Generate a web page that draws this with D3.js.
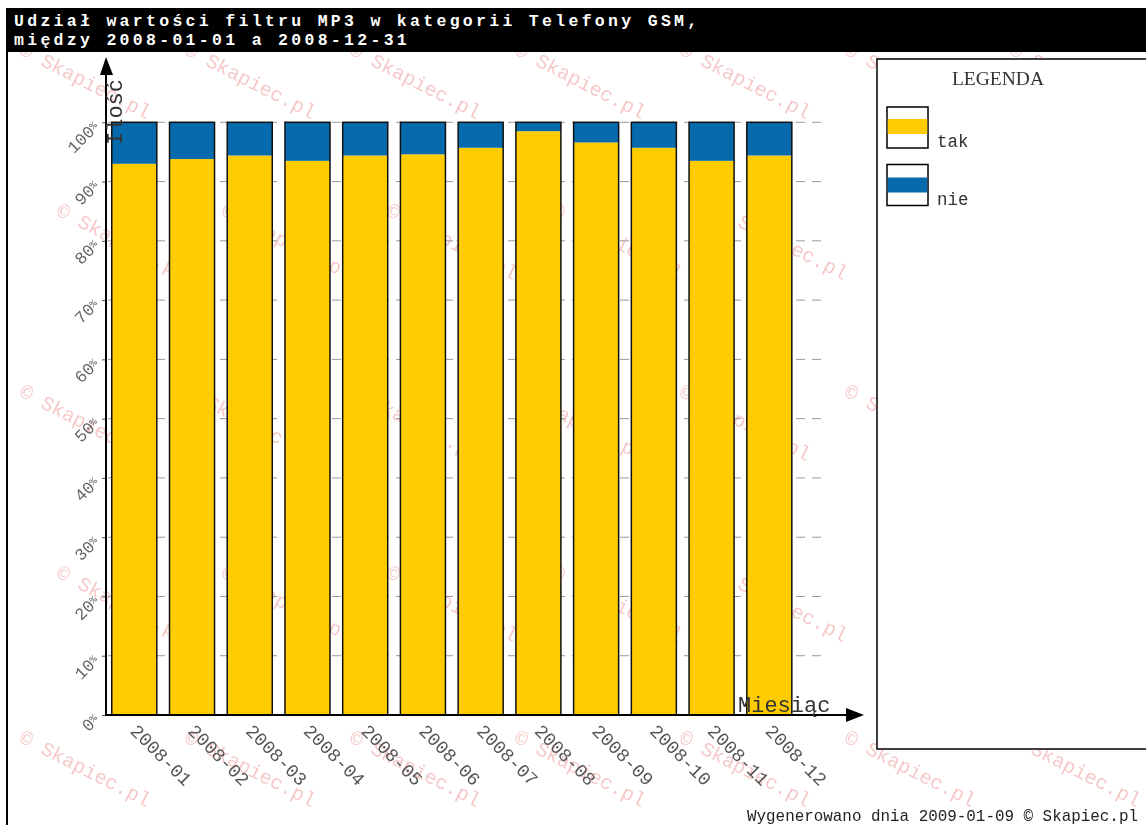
<!DOCTYPE html>
<html><head><meta charset="utf-8">
<script src="https://cdn.jsdelivr.net/npm/d3@7"></script>
<style>body{margin:0;background:#fff;} svg{display:block;}</style>
</head><body>
<svg id="c" width="1146" height="825"></svg>
<script>
// ---- data ----
const months = ["2008-01","2008-02","2008-03","2008-04","2008-05","2008-06","2008-07","2008-08","2008-09","2008-10","2008-11","2008-12"];
const takValues = [93.0, 93.8, 94.4, 93.5, 94.4, 94.6, 95.7, 98.5, 96.6, 95.7, 93.5, 94.4];
const nieValues = [7.0, 6.2, 5.6, 6.5, 5.6, 5.4, 4.3, 1.5, 3.4, 4.3, 6.5, 5.6];
const seriesNames = ["tak", "nie"];
const seriesColors = ["#FFCC00", "#066AAD"];
const yTicks = [0, 10, 20, 30, 40, 50, 60, 70, 80, 90, 100];
const titleLines = ["Udział wartości filtru MP3 w kategorii Telefony GSM,", "między 2008-01-01 a 2008-12-31"];
const yTitle = "Ilość";
const xTitle = "Miesiąc";
const legendTitle = "LEGENDA";
const footerText = "Wygenerowano dnia 2009-01-09 © Skapiec.pl";
const watermarkText = "© Skapiec.pl";

// ---- setup ----
const svg = d3.select("#c");
const mono = "'Liberation Mono', 'DejaVu Sans Mono', monospace";
const W = 1146, H = 825;

const table = months.map((m, i) => ({ month: m, tak: takValues[i], nie: nieValues[i] }));
const stack = d3.stack().keys(seriesNames)(table);

const x = d3.scaleBand().domain(months).range([106, 797.6]).paddingInner(0.22).paddingOuter(0.1);
const y = d3.scaleLinear().domain([0, 100]).range([715, 122.3]);
const color = d3.scaleOrdinal().domain(seriesNames).range(seriesColors);

// white background
svg.append("rect").attr("width", W).attr("height", H).attr("fill", "#fff");

// watermark (only whole copies that fit inside the picture)
const wm = svg.append("g").attr("fill", "#f0a4a4").attr("opacity", 0.6)
  .style("font-family", mono).style("font-size", "20px");
const wmRows = [40, 201, 382, 563, 728];
const wmOffsets = [18, 55];
const wmAngle = 27;
wmRows.forEach((ry, ri) => {
  for (let sx = wmOffsets[ri % 2] - 330; sx < W; sx += 165) {
    const t = wm.append("text").attr("transform", `translate(${sx},${ry + 14}) rotate(${wmAngle})`).text(watermarkText);
    const len = t.node().getComputedTextLength();
    const ex = sx + len * Math.cos(wmAngle * Math.PI / 180) + 6;
    const ey = ry + 14 + len * Math.sin(wmAngle * Math.PI / 180) + 4;
    if (sx < 2 || ex > W - 2 || ey > H - 1) t.remove();
  }
});

// title bar
svg.append("rect").attr("x", 7).attr("y", 8).attr("width", W).attr("height", 44).attr("fill", "#000");
svg.append("g").selectAll("text").data(titleLines).join("text")
  .attr("x", 14).attr("y", (d, i) => 26 + i * 19)
  .attr("fill", "#fff").style("font-family", mono).style("font-size", "16.5px").style("font-weight", "bold")
  .style("letter-spacing", "3.3px")
  .text(d => d);
// left frame
svg.append("line").attr("x1", 7).attr("x2", 7).attr("y1", 8).attr("y2", H).attr("stroke", "#000").attr("stroke-width", 2);

// gridlines
svg.append("g").selectAll("line").data(yTicks.filter(t => t > 0)).join("line")
  .attr("x1", 108).attr("x2", 826).attr("y1", d => y(d)).attr("y2", d => y(d))
  .attr("stroke", "#9a9a9a").attr("stroke-width", 1).attr("stroke-dasharray", "9,7");

// bars
const layers = svg.append("g").selectAll("g").data(stack).join("g").attr("fill", d => color(d.key));
layers.selectAll("rect").data(d => d).join("rect")
  .attr("x", d => x(d.data.month)).attr("width", x.bandwidth())
  .attr("y", d => y(d[1])).attr("height", d => y(d[0]) - y(d[1]));
svg.append("g").selectAll("rect").data(table).join("rect")
  .attr("x", d => x(d.month)).attr("width", x.bandwidth())
  .attr("y", y(100)).attr("height", y(0) - y(100))
  .attr("fill", "none").attr("stroke", "#111").attr("stroke-width", 1.5);

// y axis ticks
const yAxis = svg.append("g").attr("transform", "translate(106,0)")
  .call(d3.axisLeft(y).tickValues(yTicks).tickSize(4).tickFormat(""));
yAxis.select(".domain").remove();
yAxis.selectAll(".tick line").attr("stroke", "#555");
// y labels
const yl = svg.append("g").selectAll("text").data(yTicks).join("text")
  .attr("transform", d => `translate(100,${y(d) + 6}) rotate(-45)`)
  .attr("text-anchor", "end").attr("fill", "#666")
  .style("font-family", mono).style("font-size", "17px");
yl.append("tspan").text(d => d);
yl.append("tspan").attr("dy", "-0.35em").style("font-size", "10px").text("%");

// x labels
const xAxis = svg.append("g").attr("transform", "translate(0,715)")
  .call(d3.axisBottom(x).tickSize(0));
xAxis.select(".domain").remove();
xAxis.selectAll(".tick text")
  .attr("x", 0).attr("y", 0).attr("dy", 0)
  .attr("transform", "translate(-5,17) rotate(45)")
  .attr("text-anchor", "start").attr("fill", "#555")
  .style("font-family", mono).style("font-size", "18.5px");

// axis lines with arrows
svg.append("line").attr("x1", 106).attr("x2", 106).attr("y1", 716).attr("y2", 72).attr("stroke", "#000").attr("stroke-width", 2);
svg.append("path").attr("d", "M106,57 L100,75 L113,75 Z").attr("fill", "#000");
svg.append("line").attr("x1", 105).attr("x2", 850).attr("y1", 715).attr("y2", 715).attr("stroke", "#000").attr("stroke-width", 2);
svg.append("path").attr("d", "M864,715 L846,708 L846,722 Z").attr("fill", "#000");

// axis titles
svg.append("text").attr("transform", "translate(122,145) rotate(-90)")
  .attr("fill", "#333").style("font-family", mono).style("font-size", "22px").text(yTitle);
svg.append("text").attr("x", 738).attr("y", 712)
  .attr("fill", "#333").style("font-family", mono).style("font-size", "22px").text(xTitle);

// legend
const lg = svg.append("g");
lg.append("rect").attr("x", 877).attr("y", 59).attr("width", 300).attr("height", 690)
  .attr("fill", "#fff").attr("stroke", "#000").attr("stroke-width", 1.5);
lg.append("text").attr("x", 998).attr("y", 85).attr("text-anchor", "middle")
  .attr("fill", "#333").style("font-family", "'Liberation Serif', serif").style("font-size", "19.5px").text(legendTitle);
const li = lg.selectAll("g.item").data(seriesNames).join("g").attr("class", "item")
  .attr("transform", (d, i) => `translate(887,${107 + i * 57.5})`);
li.append("rect").attr("x", 0).attr("y", 0).attr("width", 41).attr("height", 41)
  .attr("fill", "#fff").attr("stroke", "#000").attr("stroke-width", 1.5);
li.append("rect").attr("x", 0.75).attr("y", (d, i) => i === 0 ? 12 : 13).attr("width", 39.5).attr("height", 15)
  .attr("fill", d => color(d));
li.append("text").attr("x", 50).attr("y", 40)
  .attr("fill", "#333").style("font-family", mono).style("font-size", "17.5px").text(d => d);

// footer
svg.append("text").attr("x", 747).attr("y", 821)
  .attr("fill", "#222").style("font-family", mono).style("font-size", "15.9px").text(footerText);
</script>
</body></html>
